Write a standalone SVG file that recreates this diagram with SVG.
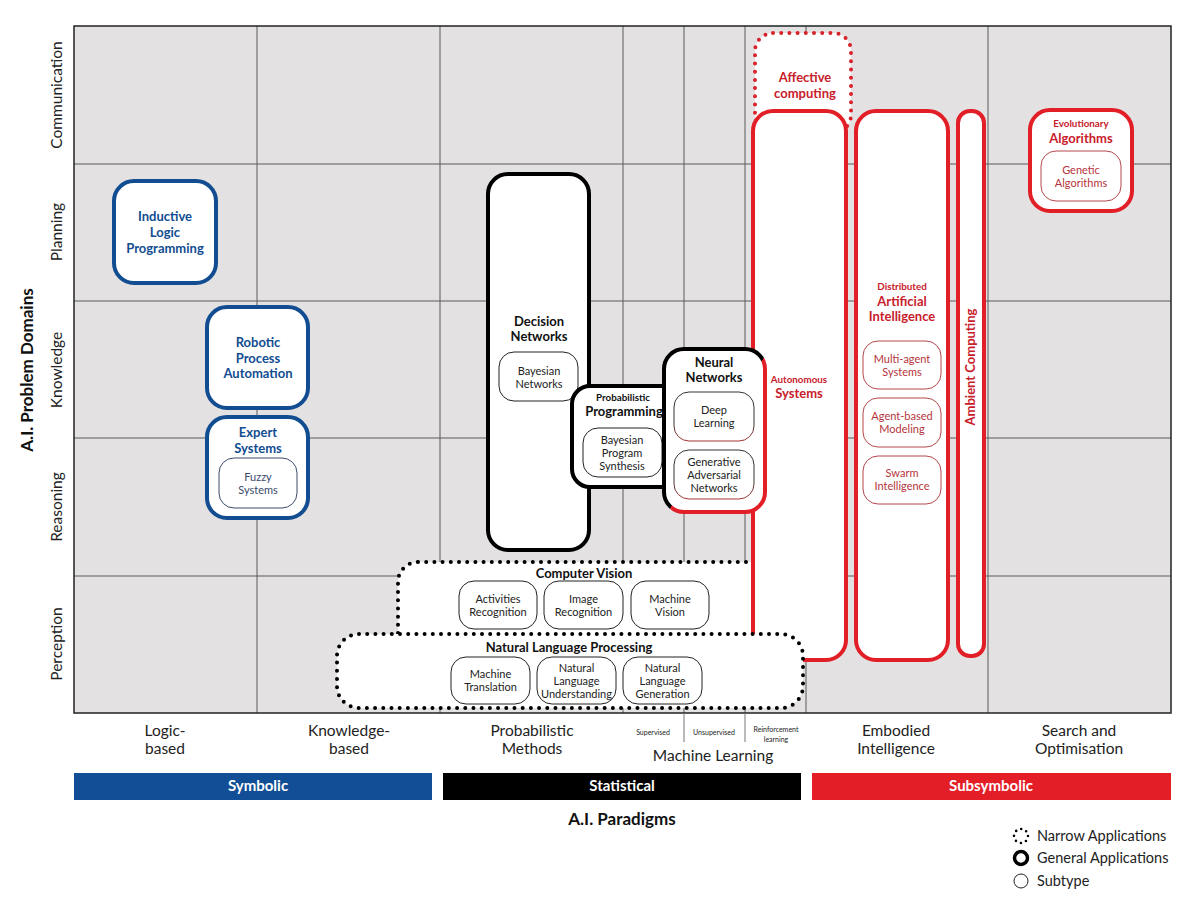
<svg xmlns="http://www.w3.org/2000/svg" width="1200" height="918" viewBox="0 0 1200 918">
<defs>
<style>
text{font-family:Lato,"Noto Sans","Liberation Sans",sans-serif;}
.ax{font-size:15.5px;fill:#222;}
.axb{font-size:17px;font-weight:700;fill:#111;}
.grid{stroke:#5a5a5a;stroke-width:1;fill:none;}
.bl{fill:#fff;stroke:#124d91;stroke-width:4;}
.bk{fill:#fff;stroke:#000;stroke-width:4;}
.rd{fill:#fff;stroke:#e21f27;stroke-width:4;}
.nb{fill:#fff;stroke:#000;stroke-width:4;stroke-dasharray:0 8.2;stroke-linecap:round;}
.nr{fill:#fff;stroke:#d8222b;stroke-width:4;stroke-dasharray:0 8.2;stroke-linecap:round;}
.sb{fill:#fff;stroke:#3a4a6a;stroke-width:1;}
.sk{fill:#fff;stroke:#222;stroke-width:1;}
.sr{fill:#fff;stroke:#b5474c;stroke-width:1;}
.tb{font-size:13px;font-weight:700;fill:#124d91;text-anchor:middle;}
.tk{font-size:13px;font-weight:700;fill:#111;text-anchor:middle;}
.tr{font-size:13px;font-weight:700;fill:#c8202b;text-anchor:middle;}
.tks{font-size:9.8px;font-weight:700;fill:#111;text-anchor:middle;}
.trs{font-size:9.8px;font-weight:700;fill:#c8202b;text-anchor:middle;}
.ub{font-size:11px;fill:#3a4a6a;text-anchor:middle;}
.uk{font-size:11px;fill:#222;text-anchor:middle;}
.ur{font-size:11px;fill:#b5343b;text-anchor:middle;}
.lab{font-size:15.5px;fill:#222;text-anchor:middle;}
.tiny{font-size:7px;fill:#222;text-anchor:middle;}
.bar{font-size:15px;font-weight:700;fill:#fff;text-anchor:middle;}
.leg{font-size:14.5px;fill:#222;}
</style>
<linearGradient id="nnGrad" x1="0" y1="0" x2="1" y2="1">
<stop offset="0" stop-color="#000"/>
<stop offset="0.52" stop-color="#000"/>
<stop offset="0.52" stop-color="#e21f27"/>
<stop offset="1" stop-color="#e21f27"/>
</linearGradient>
<linearGradient id="nnSub" x1="0" y1="0" x2="0" y2="1">
<stop offset="0.6" stop-color="#333"/>
<stop offset="1" stop-color="#a33"/>
</linearGradient>
</defs>

<rect width="1200" height="918" fill="#fff"/>

<g id="grid">
<rect x="74" y="26" width="1097" height="687" fill="#e4e1e2"/>
<path class="grid" d="M257 26V713M440 26V713M623 26V713M684 26V713M745 26V713M806 26V713M988 26V713M74 164H1171M74 301H1171M74 438H1171M74 576H1171"/>
<rect x="74" y="26" width="1097" height="687" fill="none" stroke="#222" stroke-width="1.5"/>
<path d="M684 713V742M745 713V742" stroke="#777" stroke-width="1"/>
</g>

<g id="y-axis">
<text class="ax" transform="translate(61.5,95) rotate(-90)" text-anchor="middle">Communication</text>
<text class="ax" transform="translate(61.5,232) rotate(-90)" text-anchor="middle">Planning</text>
<text class="ax" transform="translate(61.5,370) rotate(-90)" text-anchor="middle">Knowledge</text>
<text class="ax" transform="translate(61.5,507) rotate(-90)" text-anchor="middle">Reasoning</text>
<text class="ax" transform="translate(61.5,644) rotate(-90)" text-anchor="middle">Perception</text>
<text class="axb" transform="translate(33,370) rotate(-90)" text-anchor="middle">A.I. Problem Domains</text>
</g>

<g id="inductive-logic-programming">
<rect class="bl" x="114" y="181" width="102" height="102" rx="20"/>
<text class="tb" x="165" y="221">Inductive</text>
<text class="tb" x="165" y="237">Logic</text>
<text class="tb" x="165" y="253">Programming</text>
</g>

<g id="robotic-process-automation">
<rect class="bl" x="207" y="307" width="101" height="101" rx="20"/>
<text class="tb" x="258" y="347">Robotic</text>
<text class="tb" x="258" y="363">Process</text>
<text class="tb" x="258" y="378">Automation</text>
</g>

<g id="expert-systems">
<rect class="bl" x="207" y="417" width="101" height="101" rx="20"/>
<text class="tb" x="258" y="437">Expert</text>
<text class="tb" x="258" y="453">Systems</text>
<rect class="sb" x="219" y="458" width="78" height="50" rx="15"/>
<text class="ub" x="258" y="481">Fuzzy</text>
<text class="ub" x="258" y="494">Systems</text>
</g>

<g id="decision-networks">
<rect class="bk" x="488" y="174" width="101" height="376" rx="20"/>
<text class="tk" x="539" y="326">Decision</text>
<text class="tk" x="539" y="341">Networks</text>
<rect class="sk" x="499" y="352" width="79" height="49" rx="15"/>
<text class="uk" x="539" y="375">Bayesian</text>
<text class="uk" x="539" y="388">Networks</text>
</g>

<g id="probabilistic-programming">
<rect class="bk" x="572" y="386" width="108" height="101" rx="18"/>
<text class="tks" x="623" y="400.5">Probabilistic</text>
<text class="tk" x="624" y="415.5">Programming</text>
<rect class="sk" x="583" y="428" width="79" height="49" rx="15"/>
<text class="uk" x="622" y="443.5">Bayesian</text>
<text class="uk" x="622" y="456.5">Program</text>
<text class="uk" x="622" y="469.5">Synthesis</text>
</g>

<g id="affective-computing">
<rect class="nr" x="755" y="33" width="96" height="100" rx="18"/>
<text class="tr" x="805" y="81.5">Affective</text>
<text class="tr" x="805" y="97.5">computing</text>
</g>

<g id="computer-vision">
<rect class="nb" x="398" y="562" width="432" height="90" rx="20"/>
<text class="tk" x="584" y="577.5">Computer Vision</text>
<rect class="sk" x="459" y="581" width="78" height="48" rx="15"/>
<text class="uk" x="498" y="602.5">Activities</text>
<text class="uk" x="498" y="615.5">Recognition</text>
<rect class="sk" x="544" y="581" width="79" height="48" rx="15"/>
<text class="uk" x="583.5" y="602.5">Image</text>
<text class="uk" x="583.5" y="615.5">Recognition</text>
<rect class="sk" x="631" y="581" width="78" height="48" rx="15"/>
<text class="uk" x="670" y="602.5">Machine</text>
<text class="uk" x="670" y="615.5">Vision</text>
</g>

<g id="autonomous-systems">
<rect class="rd" x="753" y="111" width="93" height="549" rx="20"/>
<text class="trs" x="799" y="382.5">Autonomous</text>
<text class="tr" x="799" y="397.5">Systems</text>
</g>

<g id="neural-networks">
<rect x="664" y="349" width="101" height="163" rx="20" fill="#fff" stroke="url(#nnGrad)" stroke-width="4"/>
<text class="tk" x="714" y="366.5">Neural</text>
<text class="tk" x="714" y="381.5">Networks</text>
<rect x="674" y="392" width="80" height="49" rx="15" fill="#fff" stroke="url(#nnSub)" stroke-width="1"/>
<text class="uk" x="714" y="413.5">Deep</text>
<text class="uk" x="714" y="426.5">Learning</text>
<rect x="674" y="450" width="80" height="49" rx="15" fill="#fff" stroke="url(#nnSub)" stroke-width="1"/>
<text class="uk" x="714" y="465.5">Generative</text>
<text class="uk" x="714" y="478.5">Adversarial</text>
<text class="uk" x="714" y="491.5">Networks</text>
</g>

<g id="natural-language-processing">
<rect class="nb" x="337" y="634" width="466" height="74" rx="22"/>
<text class="tk" x="569" y="651.5">Natural Language Processing</text>
<rect class="sk" x="451" y="657" width="79" height="47" rx="15"/>
<text class="uk" x="490.5" y="677.5">Machine</text>
<text class="uk" x="490.5" y="690.5">Translation</text>
<rect class="sk" x="537" y="657" width="79" height="47" rx="15"/>
<text class="uk" x="576.5" y="671.5">Natural</text>
<text class="uk" x="576.5" y="684.5">Language</text>
<text class="uk" x="576.5" y="697.5">Understanding</text>
<rect class="sk" x="623" y="657" width="79" height="47" rx="15"/>
<text class="uk" x="662.5" y="671.5">Natural</text>
<text class="uk" x="662.5" y="684.5">Language</text>
<text class="uk" x="662.5" y="697.5">Generation</text>
</g>

<g id="distributed-artificial-intelligence">
<rect class="rd" x="856" y="111" width="92" height="549" rx="20"/>
<text class="trs" x="902" y="289.5">Distributed</text>
<text class="tr" x="902" y="305.5">Artificial</text>
<text class="tr" x="902" y="320.5">Intelligence</text>
<rect class="sr" x="863" y="341" width="78" height="48" rx="15"/>
<text class="ur" x="902" y="362.5">Multi-agent</text>
<text class="ur" x="902" y="375.5">Systems</text>
<rect class="sr" x="863" y="398" width="78" height="49" rx="15"/>
<text class="ur" x="902" y="419.5">Agent-based</text>
<text class="ur" x="902" y="432.5">Modeling</text>
<rect class="sr" x="863" y="456" width="78" height="48" rx="15"/>
<text class="ur" x="902" y="476.5">Swarm</text>
<text class="ur" x="902" y="489.5">Intelligence</text>
</g>

<g id="ambient-computing">
<rect class="rd" x="958" y="111" width="26" height="545" rx="12"/>
<text class="tr" transform="translate(975,367) rotate(-90)">Ambient Computing</text>
</g>

<g id="evolutionary-algorithms">
<rect class="rd" x="1030" y="110" width="102" height="101" rx="20"/>
<text class="trs" x="1081" y="126.5">Evolutionary</text>
<text class="tr" x="1081" y="142.5">Algorithms</text>
<rect class="sr" x="1041" y="151" width="80" height="50" rx="15"/>
<text class="ur" x="1081" y="173.5">Genetic</text>
<text class="ur" x="1081" y="186.5">Algorithms</text>
</g>

<g id="x-axis">
<text class="lab" x="165" y="736">Logic-</text>
<text class="lab" x="165" y="754">based</text>
<text class="lab" x="349" y="736">Knowledge-</text>
<text class="lab" x="349" y="754">based</text>
<text class="lab" x="532" y="736">Probabilistic</text>
<text class="lab" x="532" y="754">Methods</text>
<text class="tiny" x="653" y="735">Supervised</text>
<text class="tiny" x="714" y="735">Unsupervised</text>
<text class="tiny" x="776" y="732">Reinforcement</text>
<text class="tiny" x="776" y="742">learning</text>
<text class="lab" x="713" y="761">Machine Learning</text>
<text class="lab" x="896" y="736">Embodied</text>
<text class="lab" x="896" y="754">Intelligence</text>
<text class="lab" x="1079" y="736">Search and</text>
<text class="lab" x="1079" y="754">Optimisation</text>
</g>

<g id="paradigm-bars">
<rect x="74" y="773" width="358" height="27" fill="#114e95"/>
<text class="bar" x="258" y="791">Symbolic</text>
<rect x="443" y="773" width="358" height="27" fill="#000"/>
<text class="bar" x="622" y="791">Statistical</text>
<rect x="812" y="773" width="359" height="27" fill="#e31e27"/>
<text class="bar" x="991" y="791">Subsymbolic</text>
<text class="axb" x="622" y="825" text-anchor="middle">A.I. Paradigms</text>
</g>

<g id="legend">
<circle cx="1021" cy="836" r="7" fill="none" stroke="#000" stroke-width="2.6" stroke-dasharray="0 5.5" stroke-linecap="round"/>
<text class="leg" x="1037" y="841">Narrow Applications</text>
<circle cx="1021" cy="858" r="6.5" fill="none" stroke="#000" stroke-width="3.5"/>
<text class="leg" x="1037" y="863">General Applications</text>
<circle cx="1021" cy="881" r="7" fill="none" stroke="#222" stroke-width="1"/>
<text class="leg" x="1037" y="886">Subtype</text>
</g>
</svg>
